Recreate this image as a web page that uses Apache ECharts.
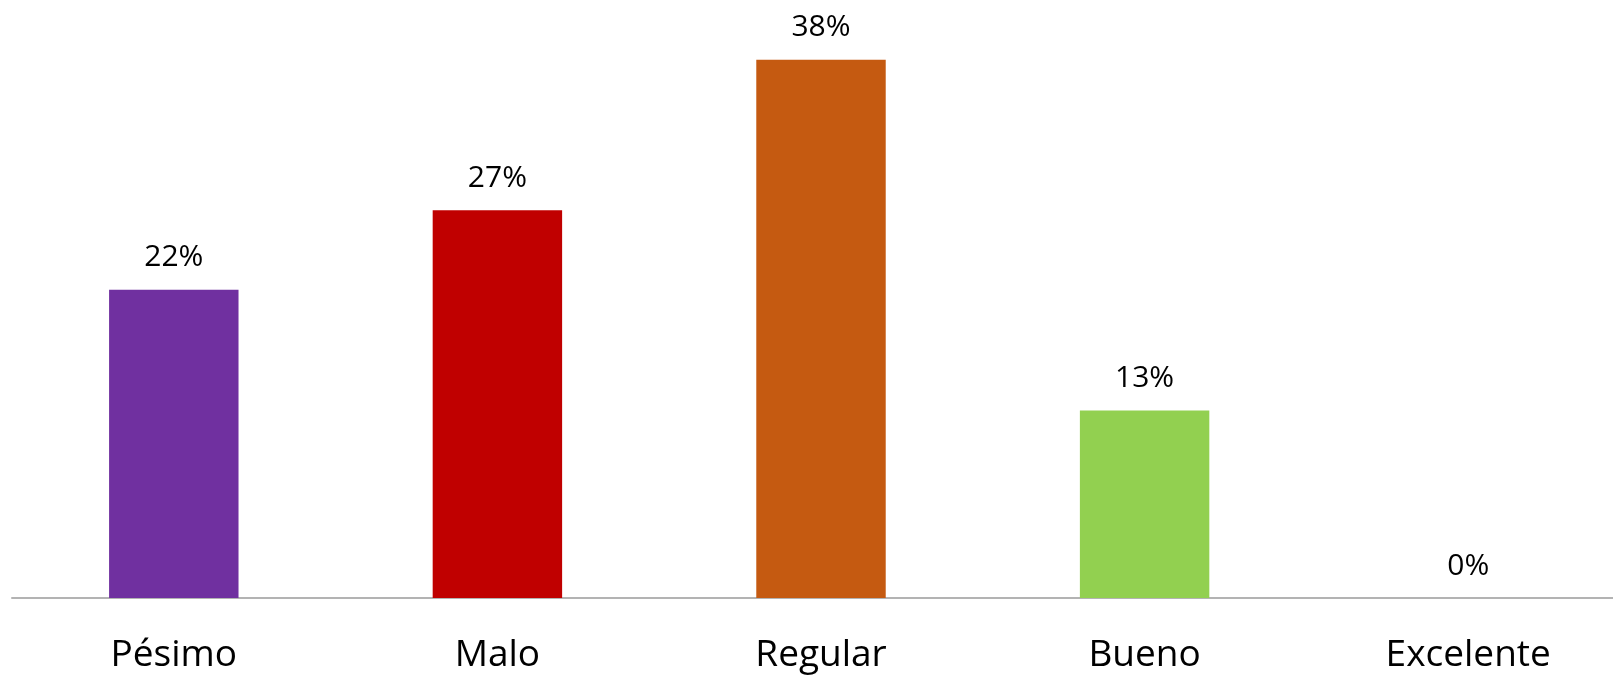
<!DOCTYPE html>
<html>
<head>
<meta charset="utf-8">
<script src="https://cdn.jsdelivr.net/npm/echarts@6/dist/echarts.min.js"></script>
<style>
html,body{margin:0;padding:0;background:#fff;}
#chart{width:1613px;height:678px;}
</style>
</head>
<body>
<div id="chart"></div>
<script>
const categories = ['Pésimo', 'Malo', 'Regular', 'Bueno', 'Excelente'];
const values = [21.7, 27.3, 37.9, 13.2, 0];
const colors = ['#7030A0', '#C00000', '#C55A11', '#92D050', '#4472C4'];

const chart = echarts.init(document.getElementById('chart'));
chart.setOption({
  animation: false,
  backgroundColor: '#ffffff',
  grid: { left: 12, top: 30, bottom: 80, right: -17, outerBoundsMode: 'none', containLabel: false },
  xAxis: {
    type: 'category',
    data: categories,
    axisLine: { show: true, lineStyle: { color: '#B3B3B3', width: 2 } },
    axisTick: { show: false },
    axisLabel: { color: '#000', fontFamily: 'Open Sans', fontSize: 37, margin: 39 }
  },
  yAxis: {
    type: 'value',
    min: 0, max: 40,
    show: false,
    splitLine: { show: false }
  },
  series: [{
    type: 'bar',
    barWidth: '40%',
    data: values.map((v, i) => ({ value: v, itemStyle: { color: colors[i] } })),
    label: {
      show: true,
      position: 'top',
      distance: 17,
      color: '#000',
      fontFamily: 'Open Sans',
      fontSize: 30,
      formatter: p => Math.round(p.value) + '%'
    }
  }]
});
</script>
</body>
</html>
